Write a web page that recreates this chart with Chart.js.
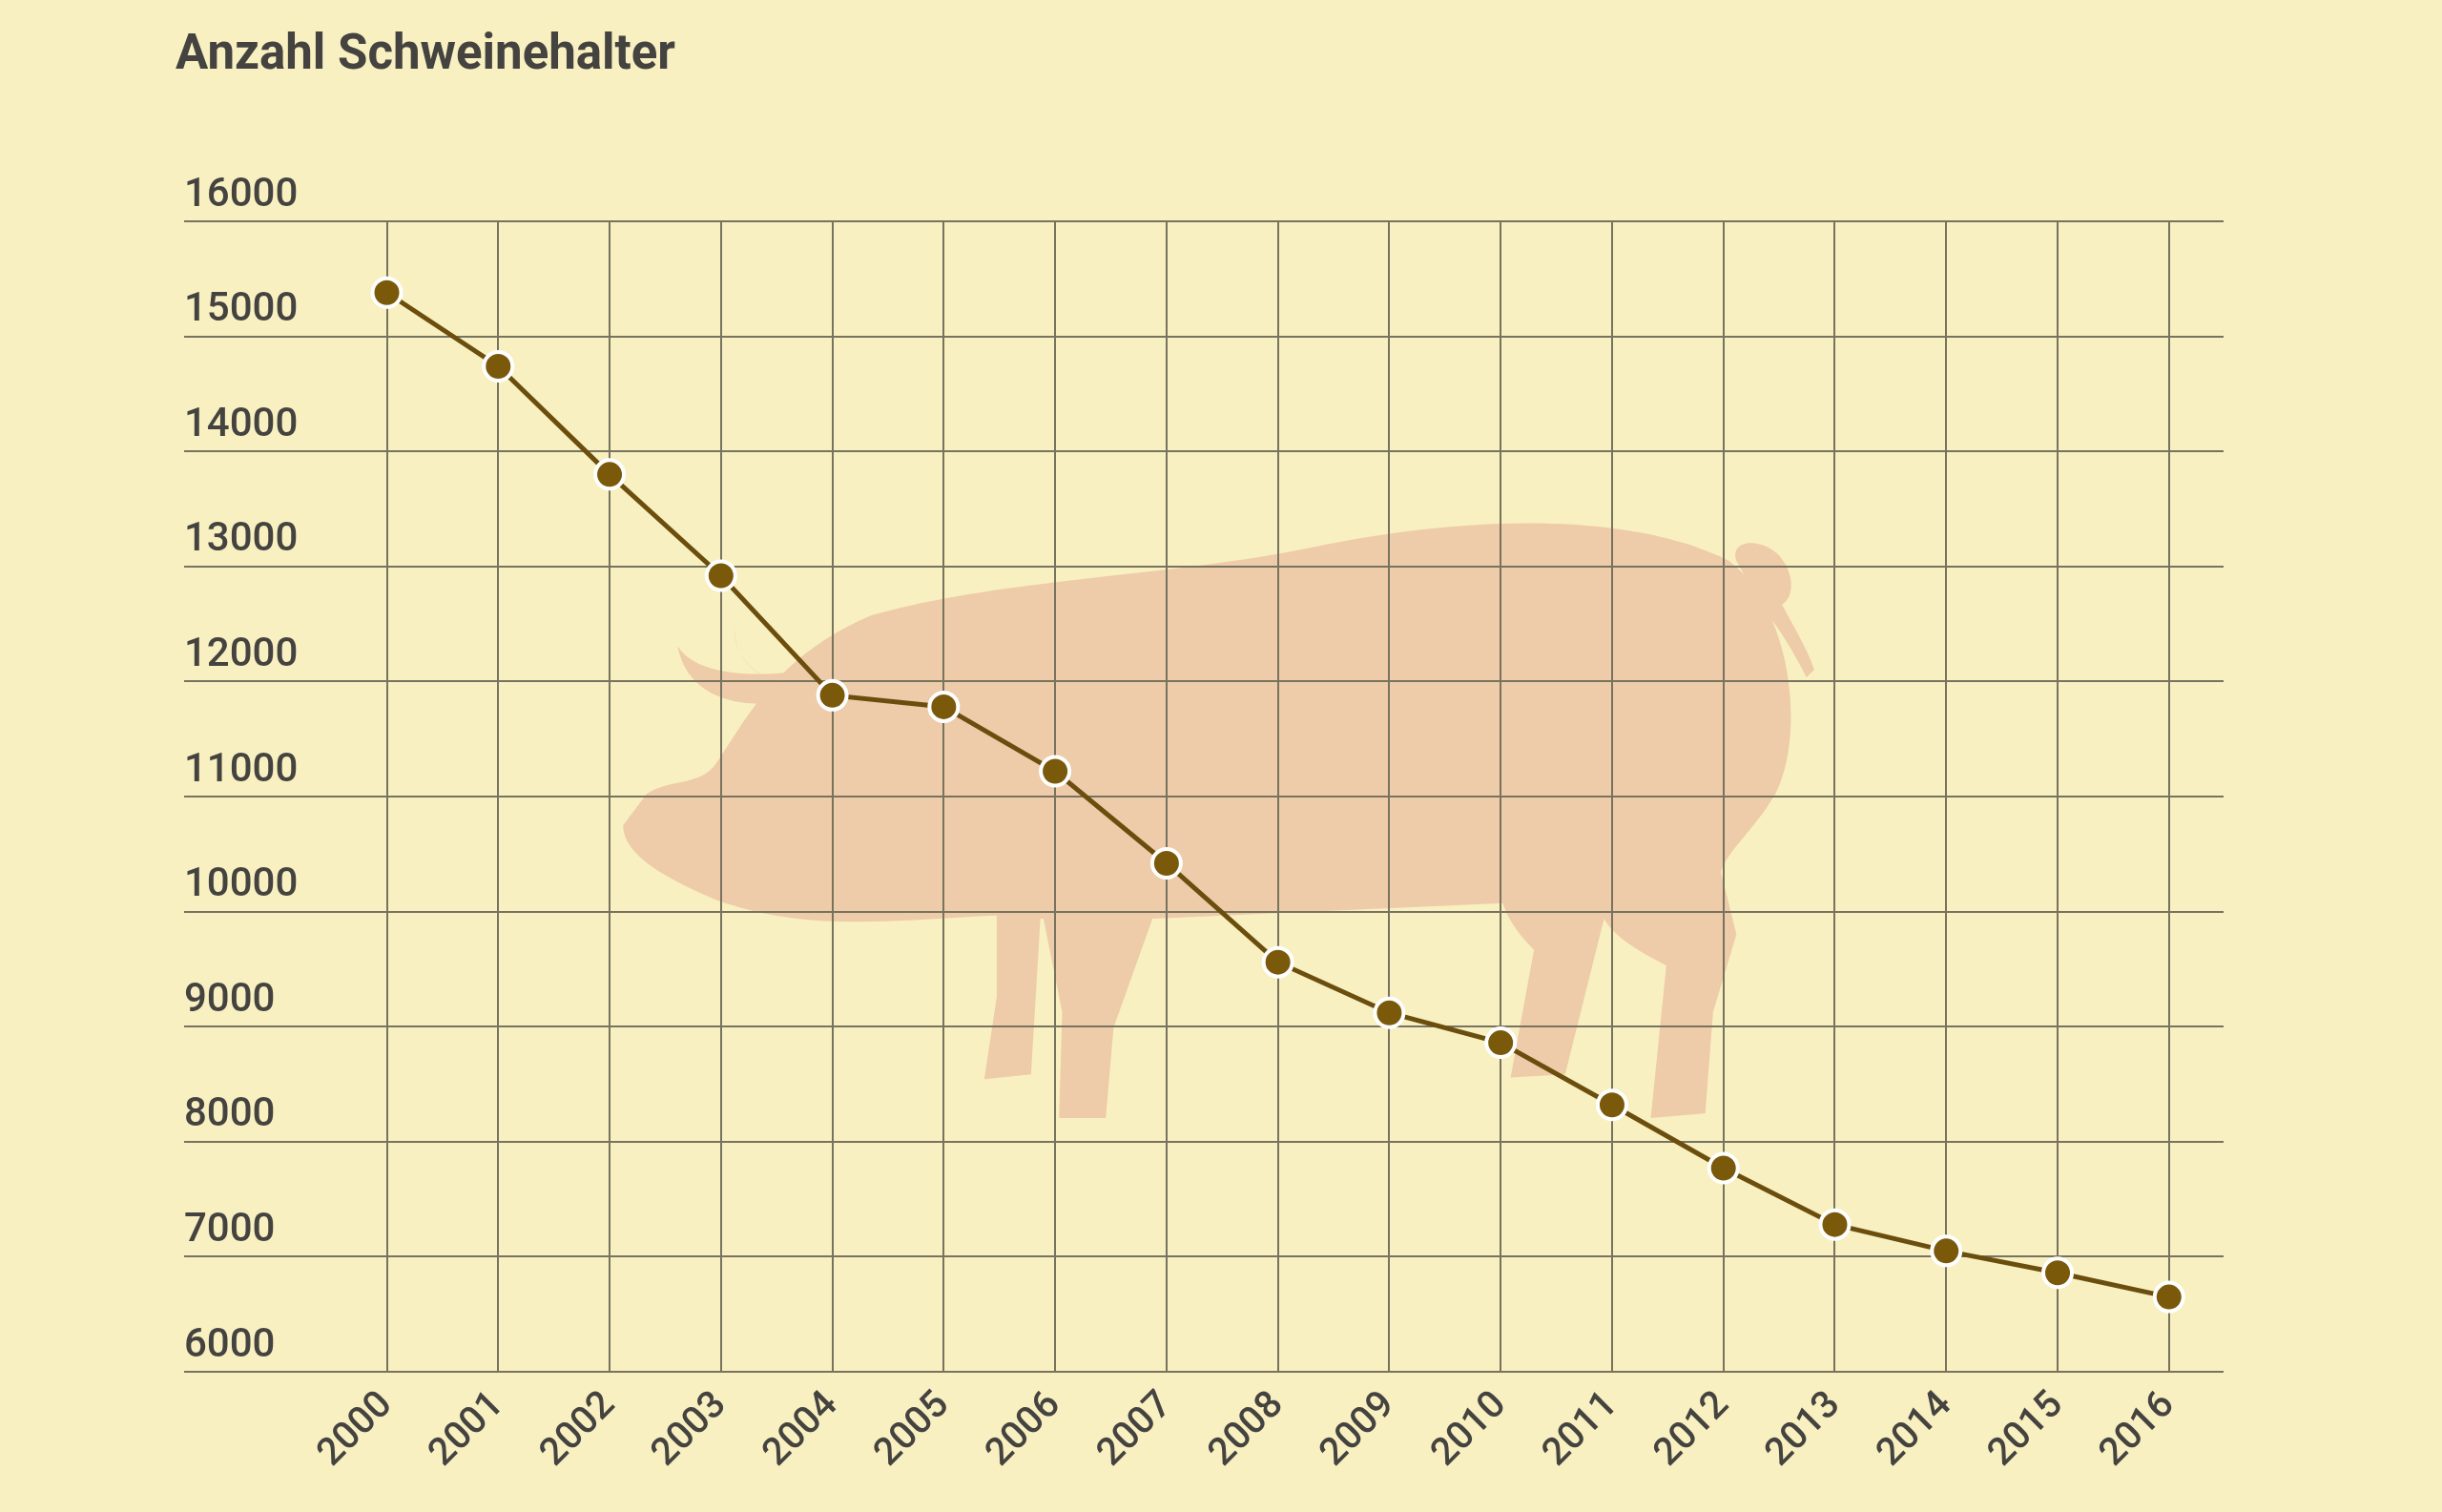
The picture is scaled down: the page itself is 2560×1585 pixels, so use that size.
<!DOCTYPE html>
<html>
<head>
<meta charset="utf-8">
<script src="https://cdn.jsdelivr.net/npm/chart.js@4"></script>
<style>
  html, body { margin: 0; padding: 0; background: #f8f0c0; }
  #wrap { position: relative; width: 2560px; height: 1585px; }
  #pig, #chart { position: absolute; left: 0; top: 0; }
  #title { position: absolute; left: 184px; top: 25px; font: bold 51px Roboto, sans-serif; color: #454340; }
</style>
</head>
<body>
<div id="wrap">
  <!-- Deko-Schwein im Hintergrund -->
  <svg id="pig" width="2560" height="1585" viewBox="0 0 1568 971">
    <g fill="#eecba9">
      <path d="M415 510 C430 500 450 505 460 490 C480 460 500 420 560 395 C650 370 760 370 850 350 C950 330 1050 330 1110 360 C1150 390 1160 470 1140 510 C1125 535 1110 545 1105 560 L1115 600 L1100 650 L1095 715 L1060 718 L1070 620 C1050 610 1035 600 1030 590 L1005 690 L970 692 L985 610 C975 600 968 590 965 580 L740 590 L715 660 L710 718 L680 718 L682 650 L670 590 L668 590 L662 690 L632 693 L640 640 L640 588 C580 590 520 600 460 578 C430 565 400 550 400 530 Z"/>
      <path d="M435 415 C440 440 460 452 490 452 L505 432 C470 435 445 430 435 415 Z"/>
      <path d="M472 402 C470 425 490 440 520 445 L540 470 C545 480 540 488 530 485 C520 470 515 455 500 440 C480 430 470 418 472 402 Z"/>
      <path d="M1115 360 C1110 345 1135 345 1145 360 C1155 375 1150 392 1135 390 C1125 385 1130 375 1140 380 C1150 400 1160 415 1165 430 L1160 435 C1150 415 1140 400 1130 388 Z"/>
    </g>
  </svg>
  <canvas id="chart" width="2560" height="1585"></canvas>
  <div id="title">Anzahl Schweinehalter</div>
</div>
<script>
var years   = [2000, 2001, 2002, 2003, 2004, 2005, 2006, 2007, 2008, 2009, 2010, 2011, 2012, 2013, 2014, 2015, 2016];
var halter  = [15380, 14740, 13800, 12920, 11880, 11780, 11220, 10420, 9560, 9120, 8860, 8320, 7770, 7280, 7050, 6860, 6650];
var yTicks  = [6000, 7000, 8000, 9000, 10000, 11000, 12000, 13000, 14000, 15000, 16000];

var points = years.map(function (y, i) { return { x: y, y: halter[i] }; });

new Chart(document.getElementById('chart').getContext('2d'), {
  type: 'line',
  data: {
    datasets: [{
      label: 'Schweinehalter',
      data: points,
      borderColor: '#6b4e0e',
      borderWidth: 5,
      pointBackgroundColor: '#7a5a0a',
      pointBorderColor: '#ffffff',
      pointBorderWidth: 4,
      pointRadius: 15,
      tension: 0
    }]
  },
  options: {
    responsive: false,
    animation: false,
    layout: { padding: { left: 193, right: 229, top: 232, bottom: 0 } },
    plugins: { legend: { display: false }, tooltip: { enabled: false } },
    scales: {
      x: {
        type: 'linear',
        min: 1998.18,
        max: 2016.49,
        afterBuildTicks: function (s) { s.ticks = years.map(function (v) { return { value: v }; }); },
        afterFit: function (s) { s.height = 147; },
        grid: { color: '#77735e', lineWidth: 2, drawTicks: false },
        border: { display: false },
        ticks: {
          color: '#454340',
          font: { family: 'Roboto', size: 40, weight: '500' },
          minRotation: 45, maxRotation: 45,
          padding: 12,
          callback: function (v) { return String(v); }
        }
      },
      y: {
        min: 6000,
        max: 16000,
        afterBuildTicks: function (s) { s.ticks = yTicks.map(function (v) { return { value: v }; }); },
        afterFit: function (s) { s.width = 0; },
        grid: { color: '#77735e', lineWidth: 2, drawTicks: false },
        border: { display: false },
        ticks: {
          mirror: true,
          padding: 0,
          labelOffset: -27,
          color: '#454340',
          font: { family: 'Roboto', size: 42, weight: '500' },
          callback: function (v) { return String(v); }
        }
      }
    }
  }
});
</script>
</body>
</html>
